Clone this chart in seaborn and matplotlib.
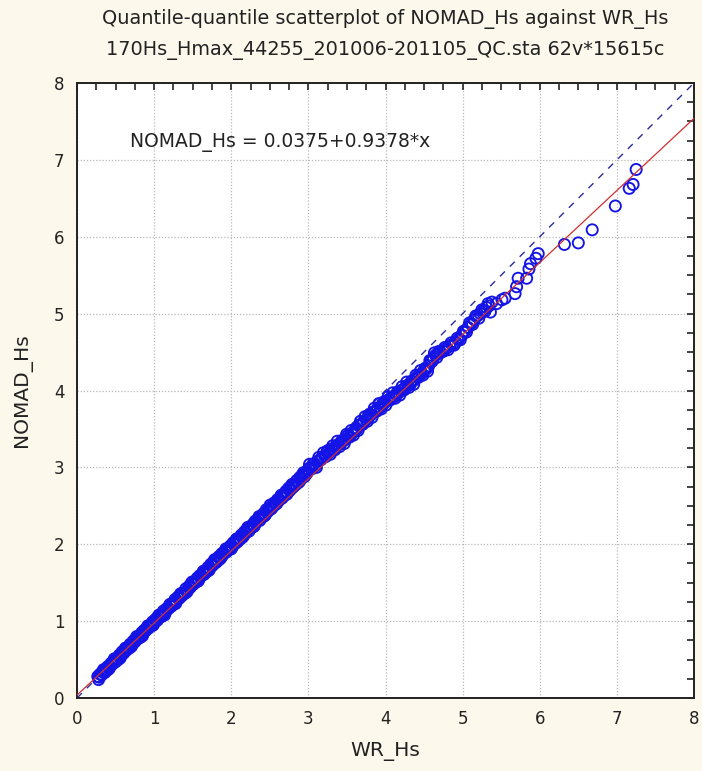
import matplotlib
matplotlib.use("Agg")
import matplotlib.pyplot as plt
import seaborn as sns
import pandas as pd
from matplotlib.ticker import MultipleLocator

# ---- data (quantile pairs) ----
wr_hs = [
    0.27, 0.29, 0.31, 0.33, 0.36, 0.38, 0.40, 0.43, 0.45, 0.47, 0.50, 0.52, 0.55, 0.57, 0.60,
    0.62, 0.64, 0.67, 0.69, 0.72, 0.74, 0.76, 0.79, 0.81, 0.84, 0.86, 0.88, 0.91, 0.93, 0.96,
    0.98, 1.00, 1.03, 1.05, 1.08, 1.10, 1.12, 1.15, 1.17, 1.20, 1.22, 1.24, 1.27, 1.29, 1.32,
    1.34, 1.36, 1.39, 1.41, 1.44, 1.46, 1.48, 1.51, 1.53, 1.56, 1.58, 1.60, 1.63, 1.65, 1.68,
    1.70, 1.72, 1.75, 1.77, 1.80, 1.82, 1.84, 1.87, 1.89, 1.92, 1.94, 1.96, 1.99, 2.01, 2.04,
    2.06, 2.08, 2.11, 2.13, 2.16, 2.18, 2.20, 2.23, 2.25, 2.28, 2.30, 2.32, 2.35, 2.37, 2.40,
    2.42, 2.44, 2.47, 2.49, 2.52, 2.54, 2.56, 2.59, 2.61, 2.64, 2.66, 2.68, 2.71, 2.73, 2.76,
    2.78, 2.80, 2.83, 2.85, 2.88, 2.90, 2.92, 2.95, 2.97, 3.00,
    3.03, 3.06, 3.09, 3.12, 3.15, 3.18, 3.21, 3.24, 3.27, 3.30, 3.33, 3.36, 3.39, 3.42, 3.45,
    3.48, 3.51, 3.54, 3.57, 3.60, 3.63, 3.66, 3.69, 3.72, 3.75, 3.78, 3.81, 3.84, 3.87, 3.90,
    3.93, 3.96, 3.99, 4.02, 4.05, 4.08, 4.11, 4.14, 4.17, 4.20, 4.23, 4.26, 4.29, 4.32, 4.35,
    4.38, 4.41, 4.44, 4.47, 4.50, 4.53, 4.56, 4.59, 4.62, 4.65, 4.68, 4.71,
    4.75, 4.79, 4.83, 4.87, 4.91, 4.95, 4.99, 5.03, 5.07, 5.11, 5.15, 5.19, 5.23, 5.27, 5.31,
    5.34,
    5.36, 5.38, 5.44, 5.51, 5.55, 5.68, 5.70, 5.72, 5.83, 5.86, 5.88, 5.95, 5.98, 6.32, 6.50,
    6.68, 6.98, 7.16, 7.21, 7.25,
]
nomad_hs = [
    0.28, 0.27, 0.31, 0.34, 0.33, 0.37, 0.41, 0.41, 0.44, 0.48, 0.47, 0.51, 0.56, 0.55, 0.58,
    0.63, 0.62, 0.66, 0.70, 0.70, 0.73, 0.77, 0.77, 0.80, 0.85, 0.84, 0.87, 0.92, 0.91, 0.95,
    0.99, 0.98, 1.02, 1.06, 1.05, 1.09, 1.13, 1.12, 1.16, 1.21, 1.19, 1.23, 1.28, 1.26, 1.30,
    1.35, 1.33, 1.37, 1.42, 1.41, 1.44, 1.49, 1.48, 1.51, 1.56, 1.54, 1.58, 1.63, 1.61, 1.65,
    1.70, 1.68, 1.72, 1.77, 1.76, 1.79, 1.84, 1.83, 1.86, 1.91, 1.90, 1.93, 1.98, 1.96, 2.00,
    2.05, 2.03, 2.07, 2.12, 2.11, 2.14, 2.19, 2.17, 2.21, 2.26, 2.24, 2.28, 2.33, 2.31, 2.35,
    2.40, 2.38, 2.42, 2.47, 2.46, 2.49, 2.54, 2.53, 2.56, 2.62, 2.60, 2.63, 2.69, 2.67, 2.70,
    2.76, 2.74, 2.77, 2.83, 2.81, 2.84, 2.90, 2.88, 2.91, 2.98,
    3.00, 3.04, 3.02, 3.08, 3.10, 3.13, 3.15, 3.20, 3.19, 3.24, 3.23, 3.27, 3.30, 3.31, 3.35,
    3.36, 3.41, 3.40, 3.45, 3.47, 3.50, 3.55, 3.56, 3.60, 3.62, 3.66, 3.68, 3.72, 3.73, 3.77,
    3.78, 3.82, 3.84, 3.87, 3.88, 3.91, 3.92, 3.95, 3.97, 4.00, 4.01, 4.04, 4.07, 4.08, 4.12,
    4.14, 4.18, 4.20, 4.22, 4.26, 4.28, 4.32, 4.38, 4.42, 4.46, 4.48, 4.49,
    4.51, 4.55, 4.58, 4.60, 4.63, 4.67, 4.72, 4.77, 4.82, 4.87, 4.92, 4.97, 5.00, 5.04, 5.08,
    5.10,
    5.02, 5.15, 5.13, 5.18, 5.20, 5.26, 5.35, 5.46, 5.46, 5.58, 5.65, 5.72, 5.78, 5.90, 5.92,
    6.09, 6.40, 6.63, 6.68, 6.875,
]
# further quantile pairs inside the dense band (between the ones above)
wr_hs_fill = [
    0.28, 0.30, 0.32, 0.345, 0.37, 0.39, 0.415, 0.44, 0.46, 0.485, 0.51, 0.535, 0.56, 0.585,
    0.61, 0.63, 0.655, 0.68, 0.705, 0.73, 0.75, 0.775, 0.80, 0.825, 0.85, 0.87, 0.895, 0.92,
    0.945, 0.97, 0.99, 1.015, 1.04, 1.065, 1.09, 1.11, 1.135, 1.16, 1.185, 1.21, 1.23, 1.255,
    1.28, 1.305, 1.33, 1.35, 1.375, 1.40, 1.425, 1.45, 1.47, 1.495, 1.52, 1.545, 1.57, 1.59,
    1.615, 1.64, 1.665, 1.69, 1.71, 1.735, 1.76, 1.785, 1.81, 1.83, 1.855, 1.88, 1.905, 1.93,
    1.95, 1.975, 2.00, 2.025, 2.05, 2.07, 2.095, 2.12, 2.145, 2.17, 2.19, 2.215, 2.24, 2.265,
    2.29, 2.31, 2.335, 2.36, 2.385, 2.41, 2.43, 2.455, 2.48, 2.505, 2.53, 2.55, 2.575, 2.60,
    2.625, 2.65, 2.67, 2.695, 2.72, 2.745, 2.77, 2.79, 2.815, 2.84, 2.865, 2.89, 2.91, 2.935,
    2.96, 2.985,
    3.015, 3.045, 3.075, 3.105, 3.135, 3.165, 3.195, 3.225, 3.255, 3.285, 3.315, 3.345, 3.375,
    3.405, 3.435, 3.465, 3.495, 3.525, 3.555, 3.585, 3.615, 3.645, 3.675, 3.705, 3.735, 3.765,
    3.795, 3.825, 3.855, 3.885, 3.915, 3.945, 3.975, 4.005, 4.035, 4.065, 4.095, 4.125, 4.155,
    4.185, 4.215, 4.245, 4.275, 4.305, 4.335, 4.365, 4.395, 4.425, 4.455, 4.485, 4.515, 4.545,
    4.575, 4.605, 4.635, 4.665, 4.695,
    4.77, 4.81, 4.85, 4.89, 4.93, 4.97, 5.01, 5.05, 5.09, 5.13, 5.17, 5.21, 5.25, 5.29, 5.33,
]
nomad_hs_fill = [
    0.24, 0.31, 0.30, 0.37, 0.36, 0.36, 0.38, 0.45, 0.44, 0.51, 0.50, 0.50, 0.52, 0.60,
    0.59, 0.65, 0.64, 0.65, 0.67, 0.74, 0.73, 0.80, 0.79, 0.79, 0.81, 0.88, 0.88, 0.94,
    0.93, 0.94, 0.95, 1.02, 1.01, 1.08, 1.07, 1.07, 1.08, 1.16, 1.16, 1.22, 1.21, 1.22,
    1.23, 1.31, 1.30, 1.36, 1.36, 1.36, 1.38, 1.45, 1.44, 1.51, 1.50, 1.51, 1.52, 1.59,
    1.59, 1.65, 1.65, 1.65, 1.66, 1.74, 1.73, 1.80, 1.79, 1.79, 1.81, 1.88, 1.88, 1.94,
    1.93, 1.94, 1.94, 2.02, 2.01, 2.07, 2.07, 2.07, 2.09, 2.16, 2.15, 2.22, 2.21, 2.22,
    2.23, 2.30, 2.30, 2.36, 2.36, 2.36, 2.37, 2.45, 2.44, 2.51, 2.50, 2.50, 2.52, 2.58,
    2.58, 2.64, 2.63, 2.64, 2.65, 2.73, 2.72, 2.78, 2.78, 2.78, 2.80, 2.87, 2.86, 2.93,
    2.92, 2.93,
    3.04, 2.98, 3.05, 3.00, 3.13, 3.10, 3.19, 3.14, 3.22, 3.17, 3.28, 3.23, 3.34,
    3.27, 3.35, 3.31, 3.43, 3.39, 3.48, 3.42, 3.51, 3.48, 3.60, 3.56, 3.66, 3.60,
    3.69, 3.65, 3.77, 3.73, 3.83, 3.76, 3.85, 3.81, 3.92, 3.88, 3.97, 3.90, 3.98,
    3.94, 4.05, 4.01, 4.11, 4.04, 4.12, 4.08, 4.20, 4.17, 4.26, 4.20, 4.29, 4.25,
    4.39, 4.38, 4.49, 4.43, 4.51,
    4.56, 4.53, 4.62, 4.59, 4.68, 4.66, 4.77, 4.76, 4.88, 4.86, 4.97, 4.94, 5.05, 5.03, 5.13,
]
fit_intercept = 0.0375
fit_slope = 0.9378
axis_range = [0, 8]
tick_values = [0, 1, 2, 3, 4, 5, 6, 7, 8]
title_lines = ["Quantile-quantile scatterplot of NOMAD_Hs against WR_Hs",
               "170Hs_Hmax_44255_201006-201105_QC.sta 62v*15615c"]
equation_text = "NOMAD_Hs = 0.0375+0.9378*x"

# ---- styling ----
bg = "#FCF8EC"
point_color = "#1414E6"
sns.set_theme(style="white")
plt.rcParams["font.family"] = ["DejaVu Sans"]

W, H = 702, 771
fig = plt.figure(figsize=(W / 100, H / 100), dpi=100, facecolor=bg)
ax = fig.add_axes([77 / W, (H - 698) / H, 617 / W, 615 / H])
ax.set_facecolor("white")

df = pd.DataFrame({"WR_Hs": wr_hs + wr_hs_fill, "NOMAD_Hs": nomad_hs + nomad_hs_fill})
ref = pd.DataFrame({"x": axis_range, "y": axis_range})
fit = pd.DataFrame({"x": axis_range,
                    "y": [fit_intercept + fit_slope * v for v in axis_range]})

sns.lineplot(data=ref, x="x", y="y", ax=ax, color="#2b2b9c", linewidth=1.0,
             linestyle=(0, (5, 5)), estimator=None, sort=False, zorder=2)
sns.scatterplot(data=df, x="WR_Hs", y="NOMAD_Hs", ax=ax, marker="o", s=64,
                facecolor="none", edgecolor=point_color, linewidth=1.35, zorder=3)
sns.lineplot(data=fit, x="x", y="y", ax=ax, color="#D03030", linewidth=0.9,
             estimator=None, sort=False, zorder=4)

ax.set_xlim(axis_range)
ax.set_ylim(axis_range)
ax.set_xticks(tick_values)
ax.set_yticks(tick_values)
ax.xaxis.set_minor_locator(MultipleLocator(0.25))
ax.yaxis.set_minor_locator(MultipleLocator(0.25))
ax.grid(True, which="major", linestyle=(0, (1, 1.5)), color="#B8B8B8", linewidth=0.9, zorder=0)
ax.set_axisbelow(True)
ax.tick_params(which="both", direction="in", top=True, right=True, length=5,
               width=1.2, color="#222222", labelsize=12, pad=9, labelcolor="#222222")
for s in ax.spines.values():
    s.set_color("#222222")
    s.set_linewidth(1.4)
    s.set_visible(True)

ax.set_xlabel("WR_Hs", fontsize=14.5, color="#222222", labelpad=10)
ax.set_ylabel("NOMAD_Hs", fontsize=14.5, color="#222222", labelpad=16)

ax.text(0.69, 7.23, equation_text, fontsize=13.5, color="#222222", va="center", ha="left")

cx = (77 + 694) / 2 / W
fig.text(cx, 1 - 19 / H, title_lines[0], ha="center", va="center", fontsize=13.9, color="#222222")
fig.text(cx, 1 - 50 / H, title_lines[1], ha="center", va="center", fontsize=13.9, color="#222222")

fig.savefig("out.png", dpi=100, facecolor=bg)
